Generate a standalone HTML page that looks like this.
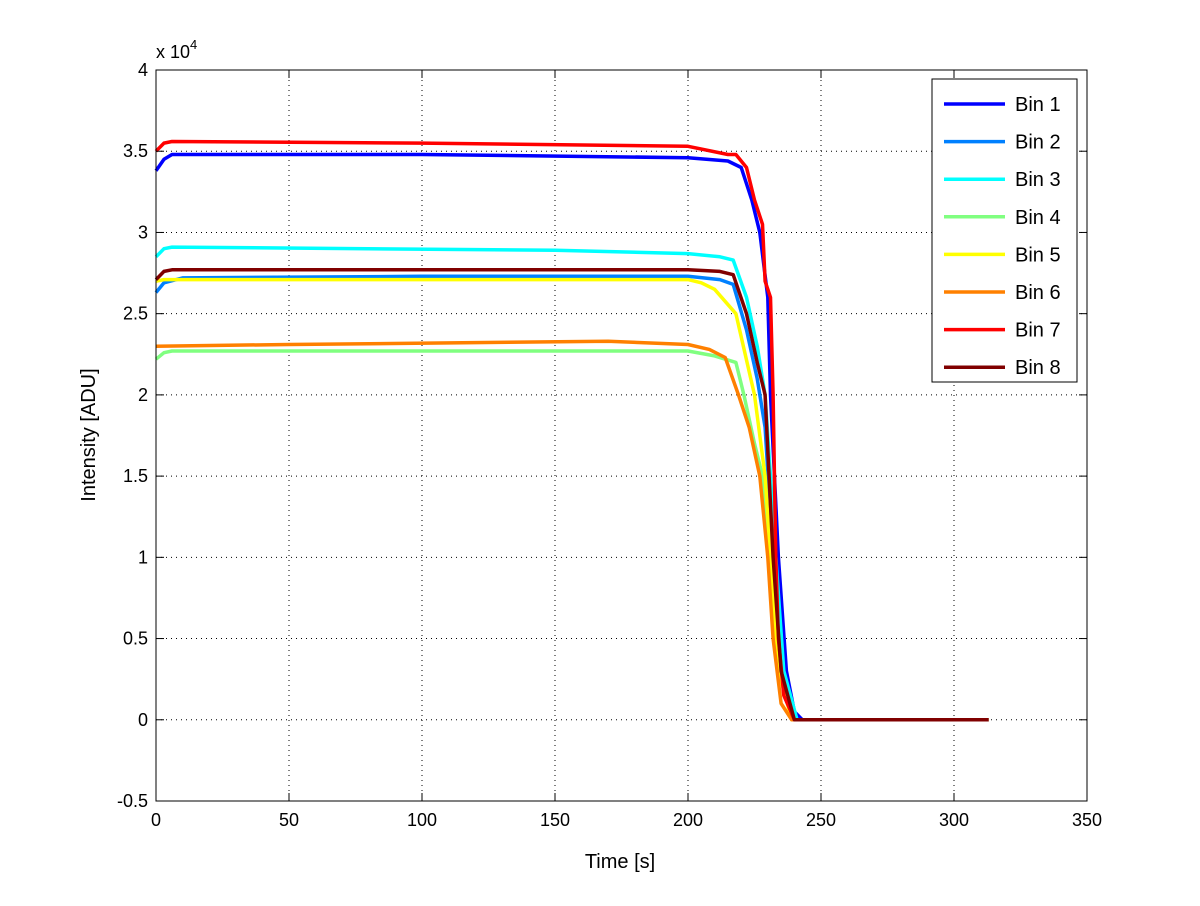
<!DOCTYPE html>
<html><head><meta charset="utf-8"><style>
body{margin:0;background:#fff}
svg{font-family:"Liberation Sans",sans-serif;}
</style></head><body>
<svg id="chart" width="1200" height="901">
<rect x="0" y="0" width="1200" height="901" fill="#fff"/>
<g id="grid"></g>
<g id="series"></g>
<rect x="156" y="70" width="931" height="731" fill="none" stroke="#000" stroke-width="1"/>
<g id="ticks"></g>
<text x="156" y="58" font-size="18">x 10<tspan dy="-9" font-size="13">4</tspan></text>
<text x="620" y="868" font-size="20" text-anchor="middle">Time [s]</text>
<text x="95" y="435" font-size="20" text-anchor="middle" transform="rotate(-90 95 435)">Intensity [ADU]</text>
<g id="legend"></g>
</svg>
<script>
const names=["Bin 1","Bin 2","Bin 3","Bin 4","Bin 5","Bin 6","Bin 7","Bin 8"];
const colors=["#0000ff","#0080ff","#00ffff","#80ff80","#ffff00","#ff8000","#ff0000","#800000"];
const xTicks=[0,50,100,150,200,250,300,350];
const yTicks=[-0.5,0,0.5,1,1.5,2,2.5,3,3.5,4];
const t1=[0,3,6,100,200,215,220,224,227,230,231,234,237,240,243,313];
const v1=[3.38,3.45,3.48,3.48,3.46,3.44,3.40,3.2,3.0,2.6,2.0,1.0,0.3,0.05,0,0];
const t2=[0,3,10,100,200,212,217,222,226,229,232,235,240,313];
const v2=[2.63,2.69,2.72,2.73,2.73,2.71,2.68,2.4,2.1,1.8,1.0,0.3,0,0];
const t3=[0,3,6,150,200,212,217,222,226,229,233,236,241,313];
const v3=[2.85,2.9,2.91,2.89,2.87,2.85,2.83,2.6,2.3,2.0,1.0,0.3,0,0];
const t4=[0,3,6,200,210,218,221,225,228,231,234,240,313];
const v4=[2.22,2.26,2.27,2.27,2.24,2.2,2.0,1.7,1.5,1.0,0.3,0,0];
const t5=[0,3,6,200,205,210,218,225,229,231,234,239,313];
const v5=[2.7,2.71,2.71,2.71,2.69,2.65,2.5,2.0,1.5,1.0,0.3,0,0];
const t6=[0,50,170,200,208,214,219,223,227,230,232,235,239,313];
const v6=[2.3,2.31,2.33,2.31,2.28,2.23,2.0,1.8,1.5,1.0,0.5,0.1,0,0];
const t7=[0,3,6,100,200,215,218,222,225,228,229,231,232,233,234,236,240,313];
const v7=[3.5,3.55,3.56,3.55,3.53,3.48,3.48,3.40,3.2,3.05,2.7,2.6,2.0,1.0,0.5,0.15,0,0];
const t8=[0,3,6,200,212,217,222,226,229,232,235,240,313];
const v8=[2.71,2.76,2.77,2.77,2.76,2.74,2.5,2.2,2.0,1.0,0.3,0,0];
const T=[t1,t2,t3,t4,t5,t6,t7,t8], V=[v1,v2,v3,v4,v5,v6,v7,v8];
const X0=156,X1=1087,Y0=801,Y1=70;
const xs=t=>X0+(t-0)/(350-0)*(X1-X0);
const ys=v=>Y0-(v+0.5)/(4.5)*(Y0-Y1);
const NS="http://www.w3.org/2000/svg";
function mk(tag,attrs,parent){const e=document.createElementNS(NS,tag);for(const k in attrs)e.setAttribute(k,attrs[k]);parent.appendChild(e);return e;}
const grid=document.getElementById('grid'),ticks=document.getElementById('ticks');
xTicks.forEach(t=>{const x=xs(t);
 if(t>0&&t<350){const g=mk('line',{x1:x,x2:x,y1:Y0,y2:Y1,stroke:'#000','stroke-dasharray':'1,4','stroke-width':1},grid);
 
 }
 const a=mk('line',{x1:x,x2:x,y1:Y0,y2:Y0-8,stroke:'#000'},ticks);
 
 
 const b=mk('line',{x1:x,x2:x,y1:Y1,y2:Y1+8,stroke:'#000'},ticks);
 
 
 const l=mk('text',{x:x,y:Y0+25,'font-size':18,'text-anchor':'middle'},ticks);l.textContent=t;
 
 
});
yTicks.forEach(v=>{const y=ys(v);
 if(v>-0.5&&v<4){const g=mk('line',{x1:X0,x2:X1,y1:y,y2:y,stroke:'#000','stroke-dasharray':'1,4','stroke-width':1},grid);
 
 }
 const a=mk('line',{x1:X0,x2:X0+8,y1:y,y2:y,stroke:'#000'},ticks);
 
 
 const b=mk('line',{x1:X1,x2:X1-8,y1:y,y2:y,stroke:'#000'},ticks);
 
 
 const l=mk('text',{x:X0-8,y:y+6,'font-size':18,'text-anchor':'end'},ticks);l.textContent=v;
 
 
});
const ser=document.getElementById('series');
for(let i=0;i<8;i++){
 const d=T[i].map((t,j)=>(j?'L':'M')+xs(t).toFixed(1)+','+ys(V[i][j]).toFixed(1)).join(' ');
 const p=mk('path',{d:d,fill:'none',stroke:colors[i],'stroke-width':3.5,'stroke-linejoin':'round'},ser);
 
 
}
const leg=document.getElementById('legend');
const box=mk('rect',{x:932,y:79,width:145,height:303,fill:'#fff',stroke:'#000'},leg);


names.forEach((n,i)=>{const y=104+i*37.6;
 const g=mk('g',{},leg);
 
 
 mk('line',{x1:944,x2:1005,y1:y,y2:y,stroke:colors[i],'stroke-width':3.5},g);
 const t=mk('text',{x:1015,y:y+7,'font-size':20},g);t.textContent=n;
});
</script>
</body></html>
